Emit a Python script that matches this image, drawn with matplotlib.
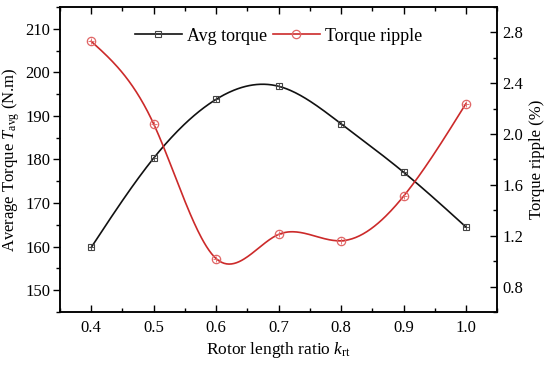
import numpy as np
import matplotlib
matplotlib.use("Agg")
import matplotlib.pyplot as plt
from matplotlib.ticker import MultipleLocator

plt.rcParams['font.family'] = ['Liberation Serif', 'DejaVu Serif']
plt.rcParams['mathtext.fontset'] = 'custom'
plt.rcParams['mathtext.rm'] = 'Liberation Serif'
plt.rcParams['mathtext.it'] = 'Liberation Serif:italic'

ratio = [0.4, 0.5, 0.6, 0.7, 0.8, 0.9, 1.0]
avg_torque = [159.8, 180.3, 193.8, 196.8, 188.2, 177.1, 164.5]
torque_ripple = [2.73, 2.08, 1.02, 1.21, 1.16, 1.51, 2.24]


def natural_spline(x, y, n=300):
    x = np.asarray(x, float)
    y = np.asarray(y, float)
    m = len(x)
    h = np.diff(x)
    A = np.zeros((m, m))
    b = np.zeros(m)
    A[0, 0] = A[-1, -1] = 1
    for i in range(1, m - 1):
        A[i, i - 1] = h[i - 1]
        A[i, i] = 2 * (h[i - 1] + h[i])
        A[i, i + 1] = h[i]
        b[i] = 6 * ((y[i + 1] - y[i]) / h[i] - (y[i] - y[i - 1]) / h[i - 1])
    M = np.linalg.solve(A, b)
    xs = np.linspace(x[0], x[-1], n)
    idx = np.clip(np.searchsorted(x, xs) - 1, 0, m - 2)
    x0, x1 = x[idx], x[idx + 1]
    hh = x1 - x0
    t0 = x1 - xs
    t1 = xs - x0
    ys = (M[idx] * t0 ** 3 + M[idx + 1] * t1 ** 3) / (6 * hh) \
        + (y[idx] / hh - M[idx] * hh / 6) * t0 \
        + (y[idx + 1] / hh - M[idx + 1] * hh / 6) * t1
    return xs, ys


fig = plt.figure(figsize=(5.5, 3.67), dpi=100)
ax = fig.add_axes([0.109, 0.150, 0.795, 0.831])
ax2 = ax.twinx()

black = '#111111'
red = '#CC2A2A'

xs, ys = natural_spline(ratio, avg_torque)
ax.plot(xs, ys, color=black, lw=1.2)
ax.plot(ratio, avg_torque, ls='none', marker='s', ms=5, mfc='none', mec='#444444', mew=0.8)
ax.plot(ratio, avg_torque, ls='none', marker='+', ms=4, mec='#444444', mew=0.6)

xs2, ys2 = natural_spline(ratio, torque_ripple)
ax2.plot(xs2, ys2, color=red, lw=1.2)
ax2.plot(ratio, torque_ripple, ls='none', marker='o', ms=6, mfc='none', mec='#E06666', mew=0.9)
ax2.plot(ratio, torque_ripple, ls='none', marker='+', ms=4, mec='#E06666', mew=0.6)

# legend handles
h1, = ax.plot([], [], color=black, lw=1.2, marker='s', ms=5, mfc='none', mec='#444444', mew=0.8)
h2, = ax.plot([], [], color=red, lw=1.2, marker='o', ms=6, mfc='none', mec='#E06666', mew=0.9)
ax.legend([h1, h2], ['Avg torque', 'Torque ripple'], loc='upper center',
          bbox_to_anchor=(0.5, 0.985), ncol=2, frameon=False, fontsize=13,
          handlelength=2.6, columnspacing=0.3, handletextpad=0.3)

ax.set_xlim(0.35, 1.05)
ax.set_ylim(145, 215)
ax2.set_ylim(0.6, 3.0)

ax.xaxis.set_major_locator(MultipleLocator(0.1))
ax.xaxis.set_minor_locator(MultipleLocator(0.05))
ax.yaxis.set_major_locator(MultipleLocator(10))
ax.yaxis.set_minor_locator(MultipleLocator(5))
ax2.yaxis.set_major_locator(MultipleLocator(0.4))
ax2.yaxis.set_minor_locator(MultipleLocator(0.2))

ax.set_xticks([0.4, 0.5, 0.6, 0.7, 0.8, 0.9, 1.0])
ax.set_xticklabels(['0.4', '0.5', '0.6', '0.7', '0.8', '0.9', '1.0'])

ax.tick_params(axis='x', which='both', direction='in', top=True, labelsize=12, pad=6)
ax.tick_params(axis='x', which='major', length=5, width=1)
ax.tick_params(axis='x', which='minor', length=3, width=1)
ax.tick_params(axis='y', which='both', direction='out', labelsize=12, pad=2)
ax.tick_params(axis='y', which='major', length=5, width=1)
ax.tick_params(axis='y', which='minor', length=3, width=1)
ax2.tick_params(axis='y', which='both', direction='in', labelsize=12)
ax2.tick_params(axis='y', which='major', length=5, width=1)
ax2.tick_params(axis='y', which='minor', length=3, width=1)

for a in (ax, ax2):
    for s in a.spines.values():
        s.set_linewidth(1.1)

ax.set_xlabel(r'Rotor length ratio $k_{\mathrm{rt}}$', fontsize=12.5, labelpad=3)
ax.set_ylabel(r'Average Torque $T_{\mathrm{avg}}$ (N.m)', fontsize=12, labelpad=2)
ax2.set_ylabel('Torque ripple (%)', fontsize=12, labelpad=4)

fig.savefig('out.png', dpi=100)
